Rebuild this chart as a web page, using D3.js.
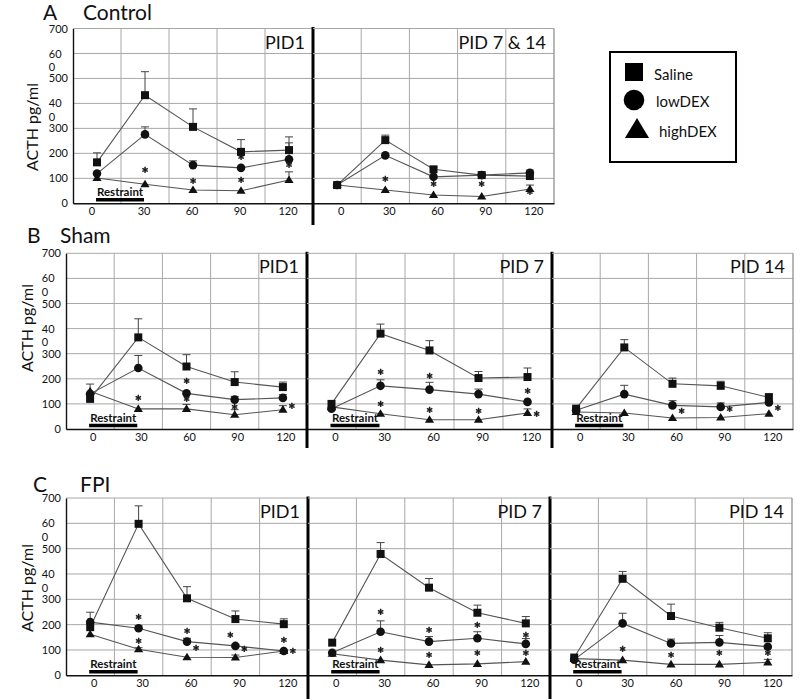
<!DOCTYPE html>
<html><head><meta charset="utf-8">
<script src="https://cdn.jsdelivr.net/npm/d3@7"></script>
<style>
body{margin:0;background:#fff}
svg{display:block}
text{font-family:Lato,"Open Sans",sans-serif;fill:#111}
</style>
</head><body>
<svg id="chart" width="800" height="699"></svg>
<script>
// ---------------- data ----------------
const times = [0, 30, 60, 90, 120];
const xTickLabels = ["0", "30", "60", "90", "120"];
const yTicks = [0, 100, 200, 300, 400, 500, 600, 700];
const yTickLabels = ["0", "100", "200", "300", "40\n0", "500", "60\n0", "700"];
const seriesNames = ["Saline", "lowDEX", "highDEX"];
const groupLetters = ["A", "B", "C"];
const groupTitles = ["Control", "Sham", "FPI"];
const panelTitles = ["PID1", "PID 7 & 14", "PID1", "PID 7", "PID 14", "PID1", "PID 7", "PID 14"];

// means: [Saline, lowDEX, highDEX]  (ACTH pg/ml)
const controlPID1Mean = [[164, 433, 306, 206, 213], [119, 276, 153, 142, 176], [101, 76, 53, 50, 93]];
const controlPID1Sem  = [[38, 94, 72, 49, 53], [0, 30, 17, 0, 66], [0, 0, 0, 0, 33]];
const controlPID714Mean = [[73, 253, 136, 113, 109], [73, 192, 106, 113, 122], [73, 53, 33, 27, 57]];
const controlPID714Sem  = [[0, 20, 9, 0, 24], [0, 0, 0, 0, 0], [0, 0, 0, 0, 16]];
const shamPID1Mean = [[120, 365, 249, 187, 167], [140, 243, 142, 117, 124], [150, 80, 80, 57, 77]];
const shamPID1Sem  = [[0, 74, 47, 41, 20], [0, 50, 0, 13, 13], [29, 0, 18, 20, 16]];
const shamPID7Mean = [[100, 380, 313, 203, 207], [81, 172, 157, 139, 108], [88, 61, 37, 37, 64]];
const shamPID7Sem  = [[0, 38, 39, 26, 36], [0, 24, 29, 20, 0], [0, 0, 0, 0, 16]];
const shamPID14Mean = [[81, 325, 180, 172, 126], [75, 139, 94, 88, 106], [68, 64, 44, 46, 61]];
const shamPID14Sem  = [[0, 31, 23, 18, 15], [0, 35, 19, 16, 0], [0, 0, 0, 0, 0]];
const fpiPID1Mean = [[190, 598, 304, 222, 202], [210, 186, 133, 116, 96], [162, 103, 71, 70, 96]];
const fpiPID1Sem  = [[59, 71, 46, 32, 21], [0, 9, 13, 7, 0], [0, 6, 0, 10, 0]];
const fpiPID7Mean = [[129, 479, 346, 247, 205], [89, 172, 133, 146, 124], [85, 60, 41, 45, 54]];
const fpiPID7Sem  = [[0, 45, 36, 30, 27], [0, 43, 20, 26, 21], [0, 0, 0, 0, 0]];
const fpiPID14Mean = [[70, 381, 234, 188, 146], [62, 205, 126, 130, 113], [66, 60, 43, 43, 51]];
const fpiPID14Sem  = [[0, 29, 47, 21, 22], [0, 40, 17, 27, 0], [0, 0, 0, 0, 12]];

// significance asterisks: [time, value, side]  side: 0 above, 1 right, -1 left
const controlPID1Stars = [[30, 129, 0], [60, 86, 0], [90, 89, 0], [90, 181, 0], [120, 149, 0]];
const controlPID714Stars = [[30, 93, 0], [60, 72, 0], [90, 72, 0], [120, 40, 0]];
const shamPID1Stars = [[30, 120, 0], [60, 186, 0], [60, 114, 0], [90, 84, 0], [120, 88, 1]];
const shamPID7Stars = [[30, 223, 0], [30, 97, 0], [60, 207, 0], [60, 73, 0], [90, 66, 0], [120, 146, 0], [120, 57, 1]];
const shamPID14Stars = [[60, 68, 1], [90, 77, 1], [120, 80, 1]];
const fpiPID1Stars = [[30, 228, 0], [30, 133, 0], [60, 172, 0], [60, 103, 1], [90, 155, -1], [90, 100, 1], [120, 137, 0], [120, 91, 1]];
const fpiPID7Stars = [[30, 247, 0], [30, 97, 0], [60, 176, 0], [60, 76, 0], [90, 196, 0], [90, 83, 0], [120, 157, 0], [120, 83, 0]];
const fpiPID14Stars = [[30, 100, 0], [60, 76, 0], [90, 84, 0], [120, 83, 0]];

// ---------------- layout ----------------
const rows = [
  {top: 28.5, bottom: 203.3, sepEnd: 225, letterX: 43, titleX: 83, titleY: 20, yTitleX: 31, yTitleY: 127},
  {top: 253.3, bottom: 429, sepEnd: 448, letterX: 27, titleX: 60, titleY: 243, yTitleX: 26, yTitleY: 328},
  {top: 498, bottom: 675.3, sepEnd: 699, letterX: 33, titleX: 80, titleY: 492, yTitleX: 26, yTitleY: 588}
];
const panels = [
  {row: 0, x0: 73, x1: 313, mean: controlPID1Mean, sem: controlPID1Sem, stars: controlPID1Stars, yAxis: true, firstDx: -5, lblDx: -1, sep: true},
  {row: 0, x0: 313, x1: 554, mean: controlPID714Mean, sem: controlPID714Sem, stars: controlPID714Stars, restraint: false, lblDx: 4},
  {row: 1, x0: 66, x1: 307, mean: shamPID1Mean, sem: shamPID1Sem, stars: shamPID1Stars, yAxis: true, lblDx: 3, sep: true},
  {row: 1, x0: 307, x1: 552, mean: shamPID7Mean, sem: shamPID7Sem, stars: shamPID7Stars, lblDx: 4, sep: true},
  {row: 1, x0: 552, x1: 793, mean: shamPID14Mean, sem: shamPID14Sem, stars: shamPID14Stars, lblDx: 4},
  {row: 2, x0: 66, x1: 308, mean: fpiPID1Mean, sem: fpiPID1Sem, stars: fpiPID1Stars, yAxis: true, lblDx: 4, sep: true},
  {row: 2, x0: 308, x1: 550, mean: fpiPID7Mean, sem: fpiPID7Sem, stars: fpiPID7Stars, lblDx: 4, sep: true},
  {row: 2, x0: 550, x1: 792, mean: fpiPID14Mean, sem: fpiPID14Sem, stars: fpiPID14Stars, lblDx: 5}
];

const svg = d3.select("#chart");
// pass-through filter: renders the asterisks with plain grey-scale antialiasing
const flt = svg.append("defs").append("filter").attr("id", "flat")
  .attr("x", "-50%").attr("y", "-50%").attr("width", "200%").attr("height", "200%");
flt.append("feOffset").attr("dx", 0).attr("dy", 0);

function marker(sel, type, s) {
  if (type === 0) {
    return sel.append("rect").attr("x", -s / 2).attr("y", -s / 2).attr("width", s).attr("height", s);
  } else if (type === 1) {
    return sel.append("circle").attr("r", s / 2 + 0.3);
  } else {
    const w = s * 1.15, h = s * 0.95;
    return sel.append("path").attr("d", `M0,${-h * 0.6}L${w / 2},${h * 0.4}L${-w / 2},${h * 0.4}Z`);
  }
}

// group titles & y titles
rows.forEach((r, i) => {
  svg.append("text").attr("x", r.letterX).attr("y", r.titleY).attr("font-size", 21).text(groupLetters[i]);
  svg.append("text").attr("x", r.titleX).attr("y", r.titleY).attr("font-size", 21).text(groupTitles[i]);
  svg.append("text").attr("transform", `translate(${r.yTitleX},${r.yTitleY}) rotate(-90)`)
    .attr("text-anchor", "middle").attr("dominant-baseline", "central")
    .attr("font-size", 16).text("ACTH pg/ml");
});

panels.forEach((p, pi) => {
  const r = rows[p.row];
  const g = svg.append("g");
  const xb = d3.scaleBand().domain(times).range([p.x0, p.x1]);
  const xc = t => xb(t) + xb.bandwidth() / 2;
  const y = d3.scaleLinear().domain([0, 700]).range([r.bottom, r.top]);

  // grid
  g.selectAll(".hg").data(yTicks.filter(v => v > 0)).join("line")
    .attr("x1", p.x0).attr("x2", p.x1).attr("y1", d => y(d)).attr("y2", d => y(d))
    .attr("stroke", "#a8a8a8").attr("stroke-width", 1);
  g.selectAll(".vg").data(times.slice(1)).join("line")
    .attr("x1", d => xb(d)).attr("x2", d => xb(d)).attr("y1", r.top).attr("y2", r.bottom)
    .attr("stroke", "#a8a8a8").attr("stroke-width", 1);
  g.append("line").attr("x1", p.x1).attr("x2", p.x1).attr("y1", r.top).attr("y2", r.bottom)
    .attr("stroke", "#888").attr("stroke-width", 1.2);

  // x axis
  const xa = g.append("g").attr("transform", `translate(0,${r.bottom})`)
    .call(d3.axisBottom(xb).tickSize(0).tickSizeOuter(0).tickPadding(4).tickFormat((d, i) => xTickLabels[i]));
  xa.attr("font-family", null).attr("font-size", null);
  xa.select(".domain").attr("stroke", "#111").attr("stroke-width", 1.6);
  xa.selectAll("text").attr("font-size", 11).attr("fill", "#222")
    .attr("dx", (d, i) => (i === 0 && p.firstDx !== undefined ? p.firstDx : p.lblDx));

  // y axis
  if (p.yAxis) {
    const ya = g.append("g").attr("transform", `translate(${p.x0},0)`)
      .call(d3.axisLeft(y).tickValues(yTicks).tickSize(0).tickSizeOuter(0).tickPadding(5)
        .tickFormat((d, i) => yTickLabels[i]));
    ya.attr("font-family", null).attr("font-size", null);
    ya.select(".domain").attr("stroke", "#111").attr("stroke-width", 1.4);
    const texts = ya.selectAll("text").attr("font-size", 11).attr("fill", "#222");
    let w3 = 0;
    texts.each(function (d, i) { if (yTickLabels[i] === "700") w3 = this.getComputedTextLength(); });
    texts.each(function (d, i) {
      const lab = yTickLabels[i];
      if (lab.includes("\n")) {
        const t = d3.select(this).text(null).attr("text-anchor", "start").attr("x", -5 - w3);
        lab.split("\n").forEach((line, k) => {
          t.append("tspan").attr("x", -5 - w3).attr("dy", k === 0 ? "0.32em" : "1.25em").text(line);
        });
        t.attr("dy", null);
      }
    });
  }

  // panel title
  g.append("text").attr("x", p.x1 - 8).attr("y", r.top + 20).attr("text-anchor", "end")
    .attr("font-size", 18).text(panelTitles[pi]);

  // restraint bar
  if (p.restraint !== false) {
    const by = r.bottom - 3.5;
    g.append("line").attr("x1", xc(0) - 1).attr("x2", xc(30) - 1).attr("y1", by).attr("y2", by)
      .attr("stroke", "#000").attr("stroke-width", 3.5);
    g.append("text").attr("x", (xc(0) + xc(30)) / 2 - 1).attr("y", by - 4).attr("text-anchor", "middle")
      .attr("font-size", 11.5).attr("font-weight", "bold").text("Restraint");
  }

  // series
  const line = d3.line().x((d, i) => xc(times[i])).y(d => y(d));
  p.mean.forEach((m) => {
    g.append("path").attr("d", line(m)).attr("fill", "none").attr("stroke", "#555").attr("stroke-width", 1.1);
  });
  p.mean.forEach((m, si) => {
    m.forEach((v, i) => {
      const e = p.sem[si][i];
      if (e > 0) {
        const cx = xc(times[i]);
        g.append("line").attr("x1", cx).attr("x2", cx).attr("y1", y(v)).attr("y2", y(v + e))
          .attr("stroke", "#444").attr("stroke-width", 1);
        g.append("line").attr("x1", cx - 4).attr("x2", cx + 4).attr("y1", y(v + e)).attr("y2", y(v + e))
          .attr("stroke", "#444").attr("stroke-width", 1);
      }
    });
  });
  [2, 1, 0].forEach(si => {
    p.mean[si].forEach((v, i) => {
      const mg = g.append("g").attr("transform", `translate(${xc(times[i])},${y(v)})`);
      marker(mg, si, 8).attr("fill", "#111");
    });
  });

  // asterisks
  g.append("g").attr("filter", "url(#flat)")
    .selectAll("text").data(p.stars).join("text")
    .attr("x", d => xc(d[0]) + (d[2] === 1 ? 9 : d[2] === -1 ? -5 : 0))
    .attr("y", d => y(d[1]) + 9).attr("text-anchor", "middle")
    .attr("font-size", 17).attr("font-weight", "bold")
    .style("fill", "#111").attr("stroke", "#111").attr("stroke-width", 0.4)
    .text("*");

  // thick separator
  if (p.sep) {
    g.append("line").attr("x1", p.x1).attr("x2", p.x1).attr("y1", r.top - 1.5).attr("y2", r.sepEnd)
      .attr("stroke", "#000").attr("stroke-width", 3);
  }
});

// legend
const lg = svg.append("g");
lg.append("rect").attr("x", 610).attr("y", 52).attr("width", 126).attr("height", 110)
  .attr("fill", "#fff").attr("stroke", "#000").attr("stroke-width", 2);
const legendRowsY = [72, 100, 130];
const legendTextX = [654, 656, 659];
seriesNames.forEach((n, i) => {
  const mg = lg.append("g").attr("transform", `translate(${i === 2 ? 637 : 634},${legendRowsY[i]})`);
  marker(mg, i, i === 0 ? 18 : (i === 1 ? 20 : 21)).attr("fill", "#000");
  lg.append("text").attr("x", legendTextX[i]).attr("y", legendRowsY[i] + (i === 0 ? 2 : 1))
    .attr("dominant-baseline", "central").attr("font-size", 15).text(n);
});
</script>
</body></html>
